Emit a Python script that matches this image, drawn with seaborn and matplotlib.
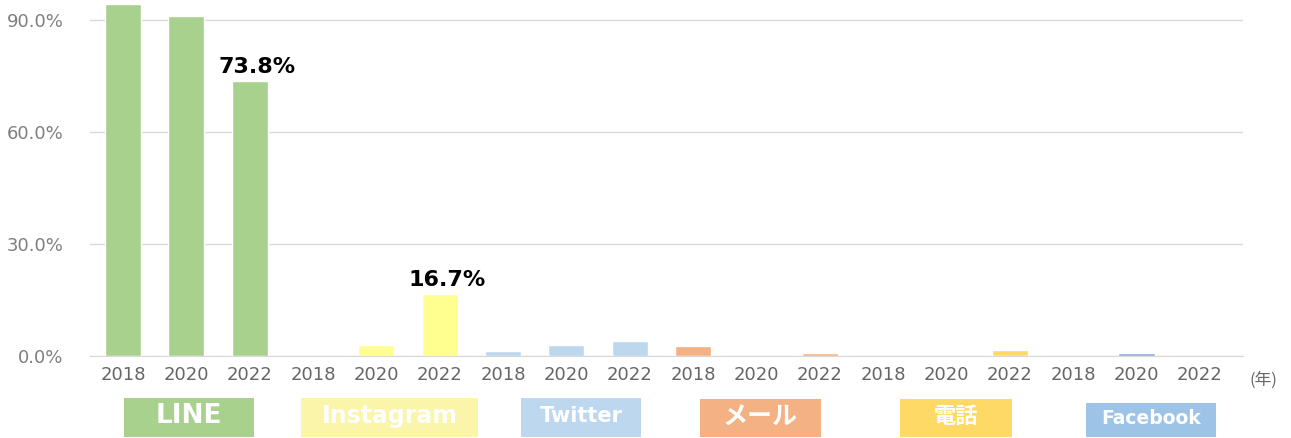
import pandas as pd
import numpy as np
import matplotlib
matplotlib.use("Agg")
import matplotlib.pyplot as plt
import matplotlib.transforms as mtransforms
from matplotlib.patches import Rectangle
import seaborn as sns

platforms = ["LINE", "Instagram", "Twitter", "メール", "電話", "Facebook"]
years = ["2018", "2020", "2022"]
line_vals = [94.3, 91.1, 73.8]
instagram_vals = [0.0, 2.9, 16.7]
twitter_vals = [1.3, 3.0, 4.0]
mail_vals = [2.7, 0.0, 0.8]
phone_vals = [0.0, 0.0, 1.6]
facebook_vals = [0.0, 0.8, 0.0]

bar_colors = ["#A9D18E", "#FFFF8F", "#BDD7EE", "#F4B183", "#FFD966", "#8FAADC"]
box_colors = ["#A9D18E", "#FAF5A9", "#BDD7EE", "#F4B183", "#FFD966", "#9DC3E6"]

# labels shown above bars
labeled = {("LINE", "2022"): "73.8%", ("Instagram", "2022"): "16.7%"}

all_vals = [line_vals, instagram_vals, twitter_vals, mail_vals, phone_vals, facebook_vals]
rows = []
for p, vals in zip(platforms, all_vals):
    for y, v in zip(years, vals):
        rows.append({"key": p + "_" + y, "platform": p, "year": y, "value": v})
df = pd.DataFrame(rows)

sns.set_style("white")
plt.rcParams["font.family"] = ["DejaVu Sans", "Noto Sans CJK JP"]

fig = plt.figure(figsize=(12.91, 4.38), dpi=100)
ax = fig.add_axes([0.0697, 0.1872, 0.8931, 0.8128])

sns.barplot(data=df, x="key", y="value", hue="platform", order=df["key"],
            hue_order=platforms, palette=bar_colors, dodge=False, width=0.57,
            ax=ax, legend=False, saturation=1)

ax.set_ylim(0, 95.4)
ax.set_xlim(-0.52, 17.68)
ax.set_yticks([0, 30, 60, 90])
ax.set_yticklabels([f"{t:.1f}%" for t in [0, 30, 60, 90]], color="#7F7F7F", fontsize=13)
ax.set_xticks(range(len(df)))
ax.set_xticklabels(df["year"], color="#666666", fontsize=13)
ax.tick_params(axis="both", length=0)
ax.tick_params(axis="x", pad=7)
ax.tick_params(axis="y", pad=19)
ax.yaxis.grid(True, color="#D9D9D9", linewidth=1)
ax.set_axisbelow(True)
for s in ["top", "right", "left"]:
    ax.spines[s].set_visible(False)
ax.spines["bottom"].set_color("#D9D9D9")
ax.set_xlabel("")
ax.set_ylabel("")

# value labels
for i, r in df.iterrows():
    lab = labeled.get((r["platform"], r["year"]))
    if lab:
        ax.text(i + 0.12, r["value"] + 1.0, lab, ha="center", va="bottom",
                fontsize=16, fontweight="bold", color="black")

ax.text(1.006, -0.068, "(年)", transform=ax.transAxes, ha="left", va="center",
        fontsize=12, color="#666666", family=["Noto Sans CJK JP"])

# platform label boxes under the year ticks
trans = mtransforms.blended_transform_factory(ax.transData, fig.transFigure)
box_centers = [1.04, 4.21, 7.23, 10.06, 13.15, 16.23]
box_widths = [2.05, 2.8, 1.9, 1.91, 1.78, 2.04]
box_tops = [0.091, 0.091, 0.091, 0.089, 0.089, 0.080]
box_fonts = [19, 17, 15, 18, 16, 13.5]
for p, c, w, top, col, fs in zip(platforms, box_centers, box_widths, box_tops, box_colors, box_fonts):
    ax.add_patch(Rectangle((c - w / 2, 0.002), w, top - 0.002, transform=trans,
                           facecolor=col, edgecolor="none", clip_on=False))
    ax.text(c, (top + 0.002) / 2 + 0.004, p, transform=trans, ha="center", va="center",
            color="white", fontsize=fs, fontweight="bold",
            family=["DejaVu Sans", "Noto Sans CJK JP"])

fig.savefig("out.png", dpi=100)
